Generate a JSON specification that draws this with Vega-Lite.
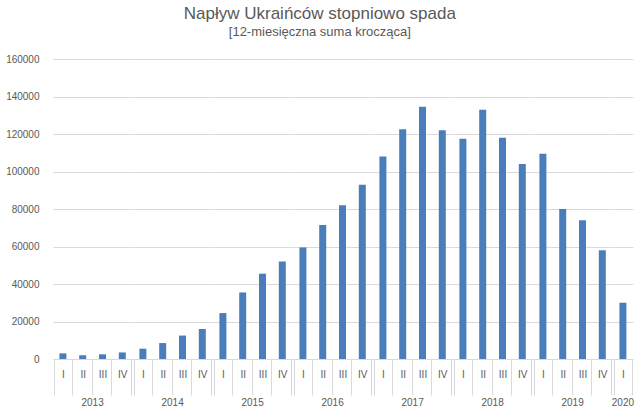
{
"$schema":"https://vega.github.io/schema/vega-lite/v6.json",
"padding":{"left":5,"right":4,"top":5,"bottom":5},
"title":{"text":"Napływ Ukraińców stopniowo spada","subtitle":"[12-miesięczna suma krocząca]","font":"Liberation Sans","fontSize":17,"fontWeight":"normal","color":"#595959","subtitleFont":"Liberation Sans","subtitleFontSize":13,"subtitleColor":"#595959","anchor":"middle","offset":14},
"data":{"values":[
{"y":"2013","q":"I","v":3000},{"y":"2013","q":"II","v":2000},{"y":"2013","q":"III","v":2500},{"y":"2013","q":"IV","v":3500},
{"y":"2014","q":"I","v":5500},{"y":"2014","q":"II","v":8500},{"y":"2014","q":"III","v":12500},{"y":"2014","q":"IV","v":16000},
{"y":"2015","q":"I","v":24500},{"y":"2015","q":"II","v":35500},{"y":"2015","q":"III","v":45500},{"y":"2015","q":"IV","v":52000},
{"y":"2016","q":"I","v":59500},{"y":"2016","q":"II","v":71500},{"y":"2016","q":"III","v":82000},{"y":"2016","q":"IV","v":93000},
{"y":"2017","q":"I","v":108000},{"y":"2017","q":"II","v":122500},{"y":"2017","q":"III","v":134500},{"y":"2017","q":"IV","v":122000},
{"y":"2018","q":"I","v":117500},{"y":"2018","q":"II","v":133000},{"y":"2018","q":"III","v":118000},{"y":"2018","q":"IV","v":104000},
{"y":"2019","q":"I","v":109500},{"y":"2019","q":"II","v":80000},{"y":"2019","q":"III","v":74000},{"y":"2019","q":"IV","v":58000},
{"y":"2020","q":"I","v":30000}
]},
"facet":{"column":{"field":"y","type":"ordinal","header":{"title":null,"labelOrient":"bottom","labelFont":"Liberation Sans","labelFontSize":10,"labelColor":"#595959","labelPadding":2}}},
"spacing":0,
"resolve":{"scale":{"x":"independent"}},
"spec":{
"width":{"step":19.8},
"height":300,
"mark":{"type":"bar","color":"#4a7ebb","width":7},
"encoding":{
"x":{"field":"q","type":"ordinal","sort":["I","II","III","IV"],"title":null,"axis":{"labelAngle":0,"labelColor":"#595959","labelFont":"Liberation Sans","labelFontSize":10,"domainColor":"#d9d9d9","tickColor":"#d9d9d9","tickBand":"extent","tickSize":36,"labelPadding":-26}},
"y":{"field":"v","type":"quantitative","title":null,"scale":{"domain":[0,160000]},"axis":{"tickCount":8,"format":"d","labelColor":"#595959","labelFont":"Liberation Sans","labelFontSize":10,"domain":false,"ticks":false,"gridColor":"#d9d9d9","labelPadding":14}}
}
},
"config":{"view":{"stroke":null},"background":"white"}
}
